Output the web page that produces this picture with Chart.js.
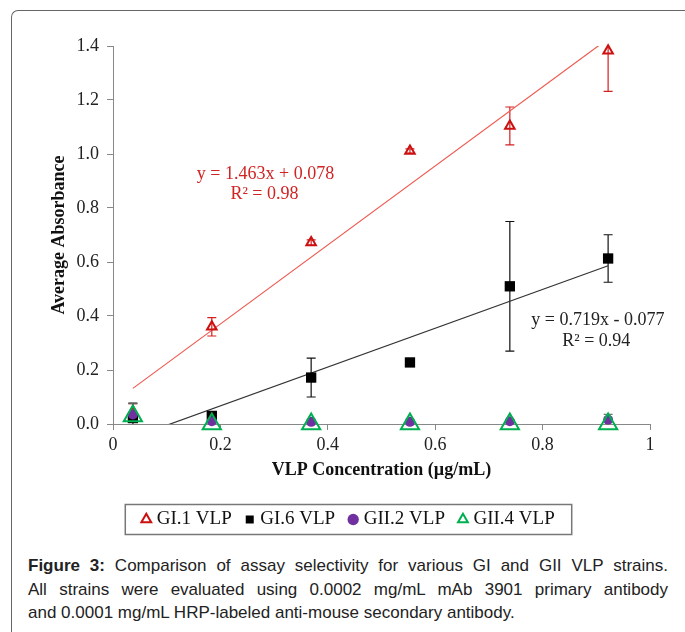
<!DOCTYPE html>
<html lang="en">
<head>
    <meta charset="UTF-8">
    <title>Assay selectivity for GI and GII VLP strains</title>
    <script src="https://cdn.jsdelivr.net/npm/chart.js"></script>
    <style>
        html, body { margin: 0; padding: 0; background: #fff; overflow: hidden; }
        #wrap { position: relative; width: 685px; height: 632px; }
        #frame {
            position: absolute; left: 11px; top: 10px; width: 700px; height: 650px;
            border-left: 1.5px solid #666; border-top: 1.5px solid #666;
            border-top-left-radius: 7px;
        }
        #chart { position: absolute; left: 0; top: 0; }
        #caption {
            position: absolute; left: 28px; top: 554px; width: 640px;
            font-family: "Liberation Sans", Arial, sans-serif; font-size: 17px;
            line-height: 23.5px; color: #222;
        }
        #caption .j { text-align: justify; text-align-last: justify; white-space: nowrap; }
    </style>
</head>
<body>
<div id="wrap">
    <div id="frame"></div>
    <canvas id="chart" width="685" height="539"></canvas>
    <div id="caption">
        <div class="j"><b>Figure 3:</b> Comparison of assay selectivity for various GI and GII VLP strains.</div>
        <div class="j">All strains were evaluated using 0.0002 mg/mL mAb 3901 primary antibody</div>
        <div>and 0.0001 mg/mL HRP-labeled anti-mouse secondary antibody.</div>
    </div>
</div>

<script>
    // VLP concentrations (ug/mL)
    var conc = [0.037, 0.184, 0.369, 0.553, 0.739, 0.922];

    // average absorbance per strain + error bar size
    var gi1 = [0.045, 0.36, 0.672, 1.011, 1.104, 1.382];
    var gi1Err = [0.03, 0.034, 0.01, 0.008, 0.07, 0.15];
    var gi6 = [0.022, 0.03, 0.172, 0.228, 0.51, 0.613];
    var gi6Err = [0.055, 0.01, 0.072, 0.01, 0.24, 0.088];
    var gii2 = [0.035, 0.01, 0.008, 0.008, 0.01, 0.016];
    var gii2Err = [0.04, 0.005, 0.005, 0.005, 0.005, 0.02];
    var gii4 = [0.03, 0.0, 0.0, 0.0, 0.0, 0.0];
    var gii4Err = [0, 0, 0, 0, 0, 0];

    // linear trendlines (end points at first and last concentration)
    var trendX = [0.037, 0.922];
    var gi1Trend = [0.132, 1.427];
    var gi6Trend = [-0.050, 0.586];

    var yTicks = [0, 0.2, 0.4, 0.6, 0.8, 1.0, 1.2, 1.4];

    function pts(xs, ys) {
        return xs.map(function (x, i) { return { x: x, y: ys[i] }; });
    }

    var serif = "'Liberation Serif', 'Times New Roman', serif";

    // error bars, drawn with the chart's own scales
    var errorBars = {
        id: 'errorBars',
        beforeDatasetsDraw: function (chart) {
            var ctx = chart.ctx, xs = chart.scales.x, ys = chart.scales.y;
            ctx.save();
            ctx.beginPath();
            ctx.rect(chart.chartArea.left, chart.chartArea.top - 1, chart.chartArea.right - chart.chartArea.left, chart.chartArea.bottom - chart.chartArea.top + 1);
            ctx.clip();
            chart.data.datasets.forEach(function (ds) {
                if (!ds.errors) return;
                ctx.strokeStyle = ds.errColor;
                ctx.lineWidth = 1.2;
                ds.data.forEach(function (p, i) {
                    var e = ds.errors[i];
                    if (!e) return;
                    var px = xs.getPixelForValue(p.x);
                    var top = ys.getPixelForValue(p.y + e);
                    var bot = ys.getPixelForValue(p.y - e);
                    ctx.beginPath();
                    ctx.moveTo(px, top); ctx.lineTo(px, bot);
                    ctx.moveTo(px - 4.5, top); ctx.lineTo(px + 4.5, top);
                    ctx.moveTo(px - 4.5, bot); ctx.lineTo(px + 4.5, bot);
                    ctx.stroke();
                });
            });
            ctx.restore();
        }
    };

    // trendline equations + box round the legend
    var extras = {
        id: 'extras',
        afterDraw: function (chart) {
            var ctx = chart.ctx, xs = chart.scales.x, ys = chart.scales.y;
            ctx.save();
            ctx.font = '18px ' + serif;
            ctx.textAlign = 'center';
            ctx.textBaseline = 'middle';
            ctx.fillStyle = '#d02424';
            ctx.fillText('y = 1.463x + 0.078', xs.getPixelForValue(0.284), ys.getPixelForValue(0.924));
            ctx.fillText('R² = 0.98', xs.getPixelForValue(0.282), ys.getPixelForValue(0.850));
            ctx.fillStyle = '#222';
            ctx.fillText('y = 0.719x - 0.077', xs.getPixelForValue(0.903), ys.getPixelForValue(0.383));
            ctx.fillText('R² = 0.94', xs.getPixelForValue(0.900), ys.getPixelForValue(0.308));

            var boxes = chart.legend.legendHitBoxes;
            if (boxes && boxes.length) {
                var l = Math.min.apply(null, boxes.map(function (b) { return b.left; }));
                var r = Math.max.apply(null, boxes.map(function (b) { return b.left + b.width; }));
                var cy = boxes[0].top + boxes[0].height / 2;
                ctx.strokeStyle = '#777';
                ctx.lineWidth = 1.5;
                ctx.strokeRect(l - 20, cy - 15, r - l + 37, 30);
            }
            ctx.restore();
        }
    };

    var ctx = document.getElementById('chart').getContext('2d');
    var chart = new Chart(ctx, {
        type: 'scatter',
        data: {
            datasets: [
                {
                    label: '', data: pts(trendX, gi1Trend), showLine: true,
                    borderColor: '#ef5a50', borderWidth: 1.2, pointRadius: 0, clip: 0, order: 5
                },
                {
                    label: '', data: pts(trendX, gi6Trend), showLine: true,
                    borderColor: '#333', borderWidth: 1.2, pointRadius: 0, clip: 0, order: 5
                },
                {
                    label: 'GI.1 VLP', data: pts(conc, gi1), errors: gi1Err, errColor: '#d42020',
                    pointStyle: 'triangle', pointRadius: 5.5, borderWidth: 2,
                    borderColor: '#cc1010', backgroundColor: 'rgba(255,255,255,0)', clip: false, order: 4
                },
                {
                    label: 'GI.6 VLP', data: pts(conc, gi6), errors: gi6Err, errColor: '#111',
                    pointStyle: 'rect', pointRadius: 7.3, borderWidth: 0,
                    borderColor: '#000', backgroundColor: '#000', clip: false, order: 3
                },
                {
                    label: 'GII.2 VLP', data: pts(conc, gii2), errors: gii2Err, errColor: '#777',
                    pointStyle: 'circle', pointRadius: 5, borderWidth: 0,
                    borderColor: '#7030a0', backgroundColor: '#7030a0', clip: false, order: 2
                },
                {
                    label: 'GII.4 VLP', data: pts(conc, gii4), errors: gii4Err, errColor: '#00a050',
                    pointStyle: 'triangle', pointRadius: 10.5, borderWidth: 2,
                    borderColor: '#00b050', backgroundColor: 'rgba(255,255,255,0)', clip: false, order: 1
                }
            ]
        },
        options: {
            responsive: false,
            animation: false,
            layout: { padding: { left: 50, right: 35, top: 46, bottom: 0 } },
            plugins: {
                tooltip: { enabled: false },
                legend: {
                    position: 'bottom',
                    labels: {
                        usePointStyle: true,
                        boxWidth: 2, boxHeight: 8,
                        padding: 17,
                        color: '#111',
                        font: { family: serif, size: 19 },
                        filter: function (item) { return item.text !== ''; },
                        sort: function (a, b) { return a.datasetIndex - b.datasetIndex; }
                    }
                }
            },
            scales: {
                x: {
                    type: 'linear', min: 0, max: 1,
                    afterFit: function (s) { s.height = 69; },
                    ticks: {
                        stepSize: 0.2, padding: 4, color: '#222',
                        font: { family: serif, size: 18 },
                        callback: function (v) { return String(Math.round(v * 10) / 10); }
                    },
                    grid: { drawOnChartArea: false, drawTicks: true, tickLength: 6, color: '#888' },
                    border: { color: '#888', width: 1 },
                    title: {
                        display: true, text: 'VLP Concentration (µg/mL)', color: '#111',
                        font: { family: serif, size: 18, weight: 'bold' },
                        padding: { top: 0, bottom: 12 }
                    }
                },
                y: {
                    type: 'linear', min: 0, max: 1.4,
                    afterFit: function (s) { s.width = 63; },
                    afterBuildTicks: function (s) {
                        s.ticks = yTicks.map(function (v) { return { value: v }; });
                    },
                    ticks: {
                        padding: 8, color: '#222',
                        font: { family: serif, size: 18 },
                        callback: function (v) { return Number(v).toFixed(1); }
                    },
                    grid: { drawOnChartArea: false, drawTicks: true, tickLength: 6, color: '#888' },
                    border: { color: '#888', width: 1 },
                    title: {
                        display: true, text: 'Average Absorbance', color: '#111',
                        font: { family: serif, size: 18, weight: 'bold' },
                        padding: { top: -1, bottom: 0 }
                    }
                }
            }
        },
        plugins: [errorBars, extras]
    });
</script>
</body>
</html>
